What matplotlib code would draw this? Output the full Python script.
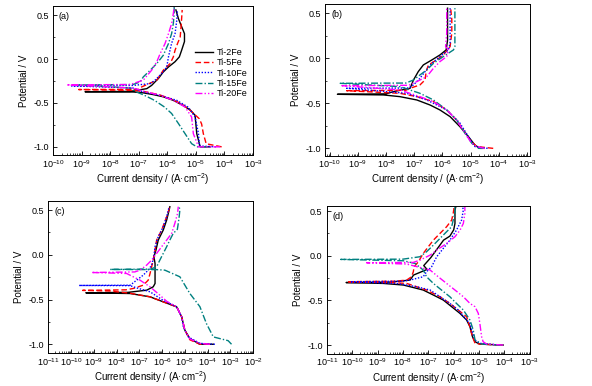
import numpy as np
import matplotlib
matplotlib.use('Agg')
import matplotlib.pyplot as plt
from matplotlib.ticker import LogLocator, MultipleLocator, NullFormatter

plt.rcParams['font.family'] = ['Liberation Sans', 'DejaVu Sans']
plt.rcParams['font.size'] = 6.5
plt.rcParams['axes.unicode_minus'] = False
plt.rcParams['mathtext.fontset'] = 'custom'
plt.rcParams['mathtext.rm'] = 'Liberation Sans'
plt.rcParams['mathtext.default'] = 'regular'

alloys = ['Ti-2Fe', 'Ti-5Fe', 'Ti-10Fe', 'Ti-15Fe', 'Ti-20Fe']
panel_labels = ['(a)', '(b)', '(c)', '(d)']

# curves as (log10 current density, potential / V), cathodic end first
a_2fe = [(-4.5, -1.0), (-4.85, -1.0), (-4.97, -0.85), (-5.03, -0.64), (-5.2, -0.58), (-5.44, -0.53),
         (-5.79, -0.47), (-6.14, -0.43), (-6.49, -0.405), (-6.84, -0.385), (-7.19, -0.375), (-8.88, -0.372),
         (-7.3, -0.368), (-6.72, -0.337), (-6.55, -0.30), (-6.31, -0.22), (-6.14, -0.146), (-5.96, -0.09),
         (-5.73, -0.03), (-5.58, 0.025), (-5.5, 0.10), (-5.40, 0.20), (-5.40, 0.29), (-5.5, 0.37),
         (-5.61, 0.46), (-5.70, 0.56)]
a_5fe = [(-4.1, -1.0), (-4.64, -0.965), (-4.74, -0.85), (-4.8, -0.74), (-4.88, -0.68), (-5.2, -0.584),
         (-5.5, -0.51), (-5.9, -0.45), (-6.25, -0.41), (-6.72, -0.375), (-7.19, -0.356), (-9.1, -0.347),
         (-7.0, -0.345), (-6.95, -0.325), (-6.37, -0.24), (-6.14, -0.127), (-5.9, -0.05), (-5.79, 0.025),
         (-5.73, 0.10), (-5.64, 0.18), (-5.55, 0.25), (-5.52, 0.37), (-5.5, 0.46), (-5.48, 0.56)]
a_10fe = [(-4.3, -1.0), (-4.88, -0.99), (-4.91, -0.85), (-5.03, -0.66), (-5.26, -0.55), (-5.67, -0.47),
          (-6.25, -0.413), (-6.84, -0.375), (-7.2, -0.33), (-9.35, -0.305), (-7.2, -0.30), (-6.6, -0.28),
          (-6.43, -0.24), (-6.2, -0.165), (-6.02, -0.09), (-5.96, 0.025), (-5.85, 0.18), (-5.73, 0.29),
          (-5.67, 0.44), (-5.65, 0.56)]
a_15fe = [(-4.6, -1.0), (-4.97, -1.0), (-5.15, -0.964), (-5.38, -0.85), (-5.6, -0.74), (-5.85, -0.62),
          (-6.1, -0.546), (-6.45, -0.47), (-6.8, -0.413), (-7.07, -0.375), (-7.3, -0.33), (-9.2, -0.295),
          (-7.2, -0.29), (-6.95, -0.26), (-6.84, -0.203), (-6.6, -0.127), (-6.37, -0.051), (-6.14, 0.044),
          (-5.96, 0.177), (-5.85, 0.29), (-5.79, 0.405), (-5.76, 0.52), (-5.76, 0.60)]
a_20fe = [(-4.15, -1.0), (-4.91, -1.0), (-5.09, -0.85), (-5.15, -0.66), (-5.38, -0.546), (-5.79, -0.47),
          (-6.25, -0.413), (-6.72, -0.375), (-7.2, -0.33), (-9.52, -0.294), (-7.3, -0.29), (-6.84, -0.24),
          (-6.55, -0.127), (-6.37, -0.032), (-6.25, 0.063), (-6.08, 0.177), (-5.96, 0.29), (-5.85, 0.405),
          (-5.79, 0.52), (-5.76, 0.60)]

b_2fe = [(-4.6, -1.0), (-4.67, -1.0), (-4.85, -0.963), (-5.08, -0.87), (-5.38, -0.76), (-5.73, -0.648),
         (-6.09, -0.574), (-6.44, -0.519), (-6.91, -0.463), (-7.51, -0.426), (-8.1, -0.407), (-9.73, -0.40),
         (-8.0, -0.395), (-7.74, -0.37), (-7.15, -0.333), (-7.03, -0.241), (-6.86, -0.148), (-6.68, -0.074),
         (-6.38, -0.019), (-6.09, 0.037), (-5.87, 0.093), (-5.82, 0.20), (-5.82, 0.43), (-5.82, 0.556)]
b_5fe = [(-4.2, -1.0), (-4.79, -0.98), (-5.02, -0.907), (-5.26, -0.796), (-5.5, -0.685), (-5.85, -0.574),
         (-6.32, -0.481), (-6.91, -0.426), (-7.51, -0.389), (-9.4, -0.36), (-7.3, -0.355), (-7.15, -0.333),
         (-6.8, -0.296), (-6.62, -0.241), (-6.58, -0.148), (-6.5, -0.074), (-6.21, -0.019), (-5.97, 0.037),
         (-5.73, 0.13), (-5.67, 0.28), (-5.67, 0.43), (-5.71, 0.556)]
b_10fe = [(-4.4, -1.0), (-4.85, -0.98), (-5.08, -0.87), (-5.38, -0.72), (-5.85, -0.574), (-6.56, -0.463),
          (-7.27, -0.389), (-9.4, -0.333), (-7.2, -0.33), (-7.03, -0.296), (-6.8, -0.222), (-6.62, -0.148),
          (-6.38, -0.056), (-6.09, 0.019), (-5.79, 0.093), (-5.73, 0.167), (-5.73, 0.43), (-5.73, 0.556)]
b_15fe = [(-4.5, -1.0), (-4.73, -1.0), (-4.96, -0.944), (-5.2, -0.833), (-5.5, -0.685), (-5.85, -0.574),
          (-6.32, -0.463), (-6.8, -0.389), (-7.51, -0.315), (-9.63, -0.278), (-7.3, -0.275), (-7.03, -0.241),
          (-6.8, -0.185), (-6.56, -0.13), (-6.32, -0.056), (-5.97, 0.019), (-5.61, 0.093), (-5.56, 0.13),
          (-5.56, 0.278), (-5.56, 0.556)]
b_20fe = [(-4.5, -1.0), (-4.79, -0.98), (-4.96, -0.944), (-5.2, -0.833), (-5.5, -0.685), (-5.85, -0.574),
          (-6.32, -0.481), (-6.8, -0.426), (-7.51, -0.352), (-9.57, -0.304), (-7.2, -0.30), (-6.91, -0.259),
          (-6.56, -0.204), (-6.32, -0.111), (-6.09, -0.037), (-5.85, 0.019), (-5.79, 0.093), (-5.89, 0.13),
          (-5.85, 0.278), (-5.85, 0.556)]

c_2fe = [(-3.75, -1.0), (-4.34, -1.0), (-4.78, -0.937), (-5.0, -0.843), (-5.14, -0.694), (-5.36, -0.582),
         (-5.95, -0.526), (-6.53, -0.47), (-7.41, -0.433), (-9.35, -0.425), (-7.5, -0.42), (-6.68, -0.396),
         (-6.39, -0.358), (-6.31, -0.321), (-6.31, -0.209), (-6.31, -0.097), (-6.36, -0.022), (-6.27, 0.052),
         (-6.17, 0.164), (-5.95, 0.276), (-5.80, 0.388), (-5.69, 0.5), (-5.66, 0.537)]
c_5fe = [(-3.9, -1.0), (-4.34, -1.0), (-4.78, -0.95), (-5.0, -0.843), (-5.14, -0.694), (-5.36, -0.582),
         (-5.95, -0.526), (-6.53, -0.47), (-7.41, -0.43), (-8.3, -0.405), (-9.49, -0.398), (-7.6, -0.392),
         (-7.27, -0.377), (-6.83, -0.340), (-6.61, -0.284), (-6.53, -0.209), (-6.46, -0.134), (-6.39, -0.06),
         (-6.31, 0.052), (-6.24, 0.164), (-6.02, 0.276), (-5.80, 0.425), (-5.66, 0.537)]
c_10fe = [(-3.68, -1.0), (-4.34, -0.99), (-4.85, -0.918), (-5.07, -0.806), (-5.14, -0.694), (-5.36, -0.582),
          (-5.95, -0.51), (-6.53, -0.414), (-7.12, -0.37), (-7.41, -0.345), (-9.65, -0.343), (-7.4, -0.34),
          (-7.12, -0.284), (-6.83, -0.228), (-6.61, -0.172), (-6.46, -0.116), (-6.36, -0.022), (-6.31, 0.090),
          (-6.17, 0.201), (-5.95, 0.313), (-5.80, 0.425), (-5.69, 0.537)]
c_15fe = [(-2.95, -1.0), (-3.1, -0.96), (-3.46, -0.937), (-3.75, -0.918), (-4.05, -0.77), (-4.34, -0.58),
          (-4.78, -0.433), (-5.22, -0.246), (-5.88, -0.172), (-6.24, -0.166), (-8.29, -0.164), (-6.5, -0.16),
          (-6.24, -0.134), (-6.10, -0.06), (-5.95, 0.015), (-5.80, 0.090), (-5.66, 0.164), (-5.51, 0.239),
          (-5.33, 0.284), (-5.29, 0.351), (-5.25, 0.425), (-5.22, 0.5), (-5.25, 0.537)]
c_20fe = [(-3.9, -1.0), (-4.34, -0.99), (-4.78, -0.94), (-5.0, -0.843), (-5.14, -0.694), (-5.36, -0.582),
          (-5.80, -0.52), (-6.10, -0.451), (-6.53, -0.358), (-6.97, -0.284), (-7.56, -0.209), (-9.10, -0.198),
          (-7.2, -0.192), (-6.97, -0.172), (-6.68, -0.116), (-6.46, -0.06), (-6.24, 0.015), (-6.02, 0.090),
          (-5.80, 0.164), (-5.58, 0.239), (-5.44, 0.351), (-5.32, 0.463), (-5.29, 0.537)]

d_2fe = [(-4.05, -1.0), (-4.97, -0.99), (-5.16, -0.963), (-5.26, -0.907), (-5.36, -0.795), (-5.49, -0.72),
         (-5.75, -0.646), (-6.08, -0.571), (-6.41, -0.496), (-6.80, -0.44), (-7.20, -0.384), (-7.98, -0.328),
         (-8.77, -0.31), (-10.24, -0.30), (-8.5, -0.295), (-7.72, -0.272), (-7.58, -0.216), (-7.05, -0.153),
         (-7.18, -0.11), (-6.9, -0.02), (-6.4, 0.175), (-6.15, 0.22), (-6.0, 0.29), (-5.95, 0.362),
         (-5.95, 0.511), (-5.91, 0.556)]
d_5fe = [(-4.18, -1.0), (-4.97, -0.989), (-5.16, -0.98), (-5.26, -0.907), (-5.33, -0.832), (-5.36, -0.795),
         (-5.49, -0.683), (-5.82, -0.608), (-6.15, -0.534), (-6.54, -0.459), (-7.07, -0.384), (-7.46, -0.347),
         (-7.85, -0.310), (-8.51, -0.30), (-10.21, -0.291), (-8.3, -0.285), (-7.85, -0.272), (-7.66, -0.235),
         (-7.59, -0.179), (-7.56, -0.123), (-7.39, -0.067), (-7.20, 0.026), (-7.0, 0.101), (-6.80, 0.175),
         (-6.54, 0.250), (-6.28, 0.325), (-6.08, 0.399), (-6.02, 0.474), (-5.98, 0.549)]
d_10fe = [(-4.18, -1.0), (-4.97, -0.981), (-5.16, -0.944), (-5.29, -0.832), (-5.36, -0.757), (-5.49, -0.72),
          (-5.82, -0.608), (-6.15, -0.534), (-6.54, -0.459), (-6.93, -0.384), (-7.46, -0.347), (-8.25, -0.310),
          (-10.08, -0.291), (-8.0, -0.285), (-7.72, -0.272), (-7.20, -0.235), (-7.07, -0.179), (-6.87, -0.123),
          (-6.67, -0.011), (-6.41, 0.082), (-6.15, 0.175), (-5.89, 0.287), (-5.69, 0.399), (-5.62, 0.511),
          (-5.65, 0.549)]
d_15fe = [(-4.18, -1.0), (-4.90, -0.989), (-5.16, -0.944), (-5.23, -0.832), (-5.36, -0.72), (-5.62, -0.608),
          (-5.89, -0.534), (-6.15, -0.459), (-6.48, -0.384), (-6.80, -0.310), (-7.07, -0.235), (-7.20, -0.160),
          (-7.52, -0.086), (-7.98, -0.056), (-10.45, -0.041), (-8.0, -0.038), (-7.33, -0.011), (-7.07, 0.045),
          (-6.80, 0.119), (-6.54, 0.194), (-6.28, 0.269), (-6.08, 0.325), (-6.02, 0.399), (-5.95, 0.474),
          (-5.95, 0.549)]
d_20fe = [(-4.05, -1.0), (-4.70, -0.989), (-4.84, -0.963), (-4.90, -0.907), (-4.97, -0.757), (-5.03, -0.646),
          (-5.16, -0.571), (-5.36, -0.534), (-5.62, -0.459), (-5.95, -0.384), (-6.28, -0.310), (-6.61, -0.235),
          (-6.93, -0.160), (-7.85, -0.093), (-9.43, -0.078), (-7.6, -0.075), (-7.33, -0.049), (-6.93, 0.007),
          (-6.67, 0.063), (-6.28, 0.138), (-5.95, 0.213), (-5.75, 0.287), (-5.62, 0.362), (-5.56, 0.474),
          (-5.56, 0.549)]

panels = [[a_2fe, a_5fe, a_10fe, a_15fe, a_20fe],
          [b_2fe, b_5fe, b_10fe, b_15fe, b_20fe],
          [c_2fe, c_5fe, c_10fe, c_15fe, c_20fe],
          [d_2fe, d_5fe, d_10fe, d_15fe, d_20fe]]

colors = ['black', 'red', 'blue', '#008080', 'magenta']
styles = ['-', (0, (4, 2)), (0, (1, 1.2)), (0, (5, 1.5, 1, 1.5)), (0, (5, 1.5, 1, 1.5, 1, 1.5))]

# axes boxes [left, bottom, width, height] in figure fraction
boxes = [[0.0895, 0.598, 0.338, 0.386],
         [0.549, 0.597, 0.346, 0.393],
         [0.0816, 0.085, 0.346, 0.395],
         [0.552, 0.083, 0.343, 0.383]]
xlims = [(1e-10, 1e-3), (10**-10.17, 10**-2.9), (1e-11, 1e-2), (1e-11, 1e-3)]
ylims = [(-1.095, 0.603), (-1.08, 0.604), (-1.10, 0.604), (-1.10, 0.556)]

fig = plt.figure(figsize=(5.92, 3.86), dpi=100)
for k in range(4):
    ax = fig.add_axes(boxes[k])
    for j in range(5):
        pts = np.array(panels[k][j])
        ax.plot(10**pts[:, 0], pts[:, 1], color=colors[j], linestyle=styles[j], lw=1.0, label=alloys[j])
    ax.set_xscale('log')
    ax.set_xlim(*xlims[k])
    ax.set_ylim(*ylims[k])
    ax.xaxis.set_major_locator(LogLocator(base=10, numticks=15))
    ax.xaxis.set_minor_locator(LogLocator(base=10, subs=np.arange(2, 10), numticks=15))
    ax.xaxis.set_minor_formatter(NullFormatter())
    ax.yaxis.set_major_locator(MultipleLocator(0.5))
    ax.yaxis.set_minor_locator(MultipleLocator(0.25))
    ax.yaxis.set_major_formatter(plt.FuncFormatter(lambda v, p: '%.1f' % v))
    ax.tick_params(which='both', direction='in', top=False, right=False, labelsize=6.5)
    ax.tick_params(axis='x', pad=2)
    ax.tick_params(axis='y', pad=3)
    ax.tick_params(which='major', length=3, width=0.6)
    ax.tick_params(which='minor', length=1.5, width=0.5)
    for s in ax.spines.values():
        s.set_linewidth(0.7)
    ax.set_xlabel('Current density / (A·cm$^{-2}$)', fontsize=7, labelpad=1)
    ax.set_ylabel('Potential / V', fontsize=7, labelpad=3)
    ax.text(0.03, 0.96, panel_labels[k], transform=ax.transAxes, ha='left', va='top', fontsize=6.5)
    if k == 0:
        ax.legend(loc='upper left', bbox_to_anchor=(0.71, 0.72), frameon=False, fontsize=6.5,
                  handlelength=2.0, handletextpad=0.4, labelspacing=0.15, borderpad=0, borderaxespad=0)

fig.savefig('out.png', dpi=100)
